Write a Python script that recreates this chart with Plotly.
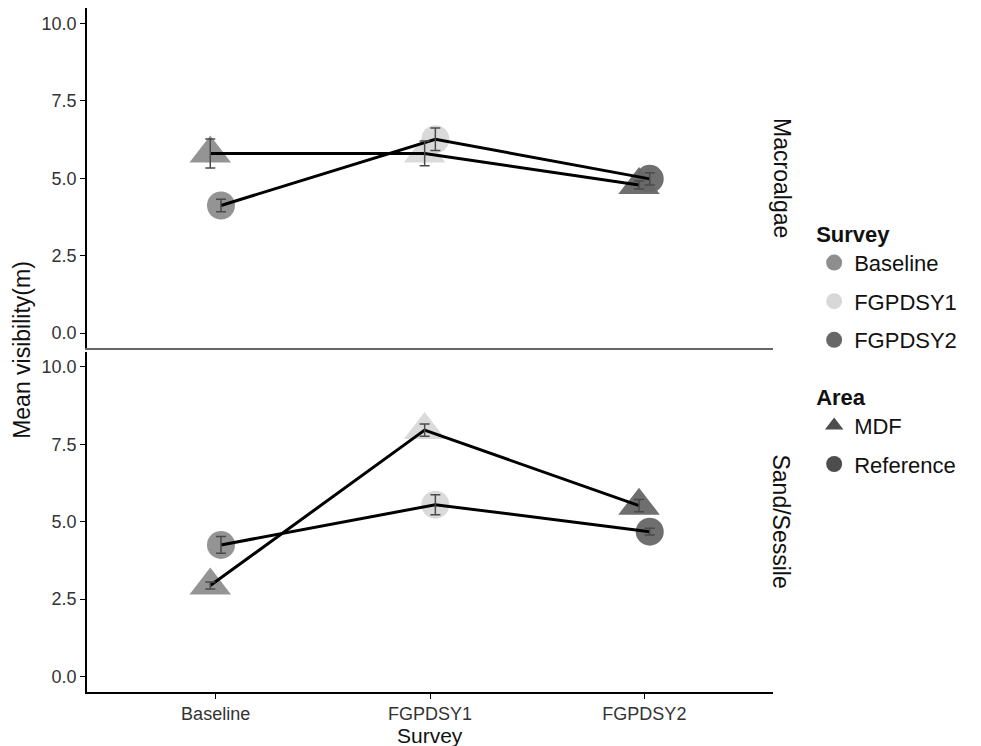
import plotly.graph_objects as go
import numpy as np

# ---- data ----
surveys = ["Baseline", "FGPDSY1", "FGPDSY2"]
panels = ["Macroalgae", "Sand/Sessile"]
areas = ["MDF", "Reference"]

macro_mdf = [5.80, 5.80, 4.78]
macro_mdf_se = [0.47, 0.40, 0.13]
macro_ref = [4.12, 6.26, 4.98]
macro_ref_se = [0.20, 0.36, 0.20]

sand_mdf = [2.94, 7.96, 5.52]
sand_mdf_se = [0.11, 0.20, 0.20]
sand_ref = [4.25, 5.55, 4.68]
sand_ref_se = [0.27, 0.32, 0.11]

y_ticks = [0, 2.5, 5, 7.5, 10]

# ---- styles ----
survey_colors = ["#8e8e8e", "#d8d8d8", "#676767"]
area_symbols = {"MDF": "triangle-up", "Reference": "circle"}
area_sizes = {"MDF": 36, "Reference": 28}
area_dodge = {"MDF": -0.025, "Reference": 0.025}
FONT = "Liberation Sans, Arial, sans-serif"

fig = go.Figure()

panel_data = {
    "Macroalgae": {"MDF": (macro_mdf, macro_mdf_se), "Reference": (macro_ref, macro_ref_se)},
    "Sand/Sessile": {"MDF": (sand_mdf, sand_mdf_se), "Reference": (sand_ref, sand_ref_se)},
}
panel_axes = {"Macroalgae": ("x2", "y2"), "Sand/Sessile": ("x", "y")}

xbase = np.arange(1, len(surveys) + 1)

for p in panels:
    xa, ya = panel_axes[p]
    # markers
    for a in areas:
        vals, se = panel_data[p][a]
        fig.add_trace(go.Scatter(
            x=xbase + area_dodge[a], y=vals, xaxis=xa, yaxis=ya,
            mode="markers",
            marker=dict(symbol=area_symbols[a], size=area_sizes[a],
                        color=survey_colors, line=dict(width=0), opacity=0.95),
            showlegend=False, hoverinfo="skip"))
    # lines
    for a in areas:
        vals, se = panel_data[p][a]
        fig.add_trace(go.Scatter(
            x=xbase + area_dodge[a], y=vals, xaxis=xa, yaxis=ya,
            mode="lines", line=dict(color="black", width=3),
            showlegend=False, hoverinfo="skip"))
    # error bars
    for a in areas:
        vals, se = panel_data[p][a]
        fig.add_trace(go.Scatter(
            x=xbase + area_dodge[a], y=vals, xaxis=xa, yaxis=ya,
            mode="markers", marker=dict(size=1, opacity=0),
            error_y=dict(type="data", array=se, visible=True,
                         color="#4a4a4a", thickness=1.5, width=5),
            showlegend=False, hoverinfo="skip"))

# ---- legend entries ----
for i, s in enumerate(surveys):
    fig.add_trace(go.Scatter(
        x=[None], y=[None], mode="markers", name=s,
        marker=dict(symbol="circle", size=16, color=survey_colors[i]),
        legend="legend", legendgroup="s" + str(i)))
for a in areas:
    fig.add_trace(go.Scatter(
        x=[None], y=[None], mode="markers", name=a,
        marker=dict(symbol=area_symbols[a], size=16, color="#4d4d4d"),
        legend="legend2", legendgroup="a" + a))

axis_common = dict(showgrid=False, zeroline=False, showline=True,
                   linecolor="black", linewidth=1.5, ticks="outside",
                   ticklen=5, tickcolor="black", tickwidth=1.2)

fig.update_layout(
    width=981, height=746,
    margin=dict(l=87, r=208, t=8, b=54),
    paper_bgcolor="white", plot_bgcolor="white",
    font=dict(family=FONT, color="#111111"),
    xaxis=dict(domain=[0, 1], range=[0.4, 3.6], anchor="y",
               tickvals=list(xbase), ticktext=surveys,
               tickfont=dict(family=FONT, size=18, color="#333333"), **axis_common),
    xaxis2=dict(domain=[0, 1], range=[0.4, 3.6], anchor="y2", matches="x",
                showticklabels=False, showgrid=False, zeroline=False,
                showline=True, linecolor="#666666", linewidth=1.5, ticks=""),
    yaxis=dict(domain=[0, 0.4978], range=[-0.5, 10.5], anchor="x",
               tickvals=y_ticks, tickformat=".1f",
               tickfont=dict(family=FONT, size=18, color="#333333"), **axis_common),
    yaxis2=dict(domain=[0.5022, 1], range=[-0.5, 10.5], anchor="x2",
                tickvals=y_ticks, tickformat=".1f",
                tickfont=dict(family=FONT, size=18, color="#333333"), **axis_common),
    legend=dict(title=dict(text="<b>Survey</b>", font=dict(size=22, family=FONT)),
                font=dict(size=22, family=FONT, color="#111111"),
                x=1.06, xanchor="left", y=0.70, yanchor="top",
                tracegroupgap=7, bgcolor="rgba(0,0,0,0)"),
    legend2=dict(title=dict(text="<b>Area</b>", font=dict(size=22, family=FONT)),
                 font=dict(size=22, family=FONT, color="#111111"),
                 x=1.06, xanchor="left", y=0.462, yanchor="top",
                 tracegroupgap=7, bgcolor="rgba(0,0,0,0)"),
    annotations=[
        dict(text="Mean visibility(m)", x=-0.095, y=0.5, xref="paper", yref="paper",
             textangle=-90, showarrow=False, xanchor="center", yanchor="middle",
             font=dict(size=23, family=FONT, color="#111111")),
        dict(text="Survey", x=0.5, y=-0.0435, xref="paper", yref="paper",
             showarrow=False, xanchor="center", yanchor="top",
             font=dict(size=21, family=FONT, color="#111111")),
        dict(text="Macroalgae", x=1.012, y=0.751, xref="paper", yref="paper",
             textangle=90, showarrow=False, xanchor="center", yanchor="middle",
             font=dict(size=23, family=FONT, color="#111111")),
        dict(text="Sand/Sessile", x=1.012, y=0.249, xref="paper", yref="paper",
             textangle=90, showarrow=False, xanchor="center", yanchor="middle",
             font=dict(size=23, family=FONT, color="#111111")),
    ],
)

fig.write_html("out.html")
